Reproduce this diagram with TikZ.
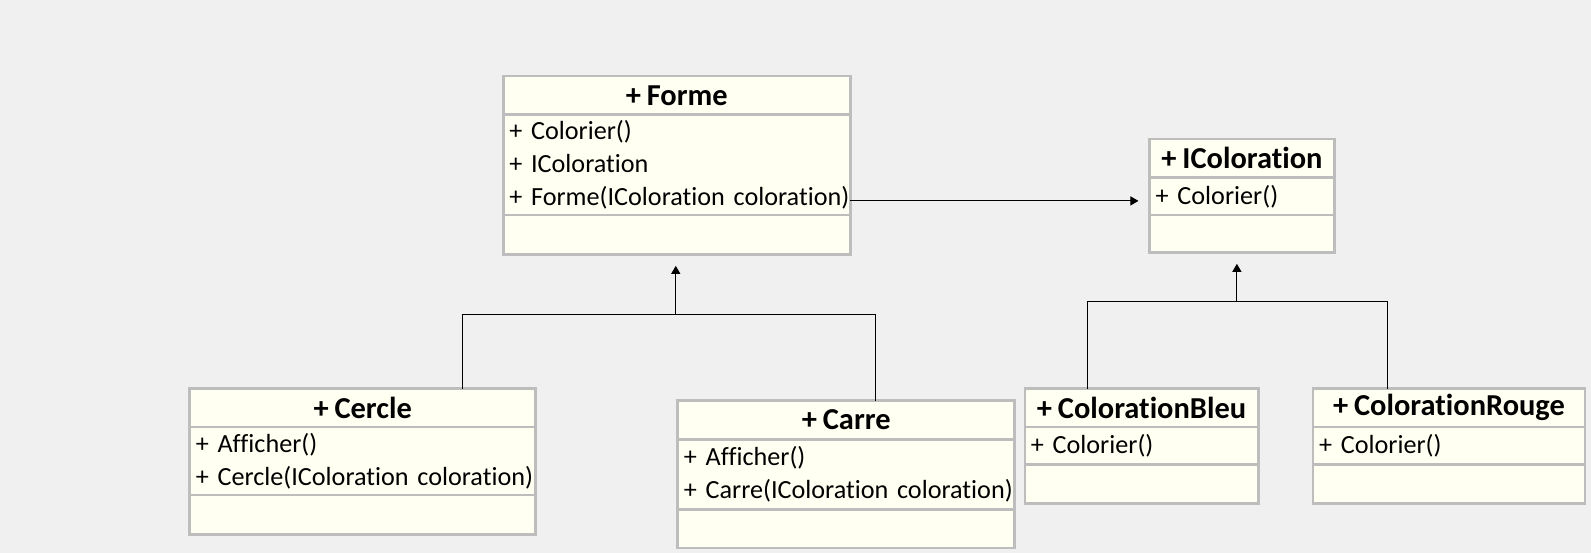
\documentclass[tikz,border=0pt]{standalone}
\usepackage{fontspec}
\setmainfont[Ligatures=NoCommon,WordSpace=0.85]{Carlito}
\usepackage{xcolor}
\usetikzlibrary{arrows.meta,positioning}
\definecolor{boxfill}{HTML}{FFFFF2}
\definecolor{boxline}{HTML}{BDBDBD}
\definecolor{bggray}{HTML}{F0F0F0}

\begin{document}
\begin{tikzpicture}[x=0.5pt,y=-0.5pt,%
% common options for the class boxes:
box/.style = {draw=boxline, fill=boxfill, line width=1.3pt, inner sep=0,
            outer sep=0, anchor=north west},
head/.style = {box, font=\fontsize{15}{17}\selectfont\bfseries, align=center,
            minimum height=19pt},
attrs/.style = {box, font=\fontsize{12.9}{16.25}\selectfont, align=left,
            inner xsep=3pt},
empty/.style = {box},
% common options for the connectors:
link/.style = {draw, line width=0.55pt},
arrow/.style = {link, -{Triangle[length=4pt,width=4.5pt]}, shorten >=5.5pt}]
\fill[bggray] (0,0) rectangle (1568,545);
\useasboundingbox (0,0) rectangle (1568,545);
\node[head, minimum width=171pt] (F0) at (496,75) {+ Forme};
\node[attrs, text width=165pt, minimum height=49.5pt] (F1) at (F0.south west) {+ Colorier()\\+ IColoration\\\mbox{+ Forme(IColoration coloration)}};
\node[empty, minimum width=171pt, minimum height=19.5pt] (F2) at (F1.south west) {};
\node[head, minimum width=91pt] (I0) at (1133,137) {+ IColoration};
\node[attrs, text width=85pt, minimum height=18.5pt] (I1) at (I0.south west) {+ Colorier()};
\node[empty, minimum width=91pt, minimum height=18.5pt] (I2) at (I1.south west) {};
\node[head, minimum width=170.5pt] (C0) at (187,383) {+ Cercle};
\node[attrs, text width=164.5pt, minimum height=33.5pt] (C1) at (C0.south west) {+ Afficher()\\\mbox{+ Cercle(IColoration coloration)}};
\node[empty, minimum width=170.5pt, minimum height=19.5pt] (C2) at (C1.south west) {};
\node[head, minimum width=166pt] (K0) at (668,395) {+ Carre};
\node[attrs, text width=160pt, minimum height=34.5pt] (K1) at (K0.south west) {+ Afficher()\\\mbox{+ Carre(IColoration coloration)}};
\node[empty, minimum width=166pt, minimum height=19pt] (K2) at (K1.south west) {};
\node[head, minimum width=115pt] (B0) at (1010,383) {+ ColorationBleu};
\node[attrs, text width=109pt, minimum height=18.5pt] (B1) at (B0.south west) {+ Colorier()};
\node[empty, minimum width=115pt, minimum height=19pt] (B2) at (B1.south west) {};
\node[head, minimum width=134pt] (R0) at (1294,383) {+ ColorationRouge};
\node[attrs, text width=128pt, minimum height=18.5pt] (R1) at (R0.south west) {+ Colorier()};
\node[empty, minimum width=134pt, minimum height=19pt] (R2) at (R1.south west) {};
\coordinate (Fj) at (666,310);
\coordinate (Ij) at (1219,297);
\coordinate (Fa) at ([yshift=-17.75pt]F1.east);
\draw[arrow] (Fa) -- (Fa -| I1.west);
\draw[link] ([xshift=49.25pt]C0.north) |- (Fj) -| ([xshift=14.5pt]K0.north);
\draw[arrow] (Fj) -- (Fj |- F2.south);
\draw[link] ([xshift=-26.5pt]B0.north) |- (Ij) -| ([xshift=-30.5pt]R0.north);
\draw[arrow] (Ij) -- (Ij |- I2.south);
\end{tikzpicture}
\end{document}
